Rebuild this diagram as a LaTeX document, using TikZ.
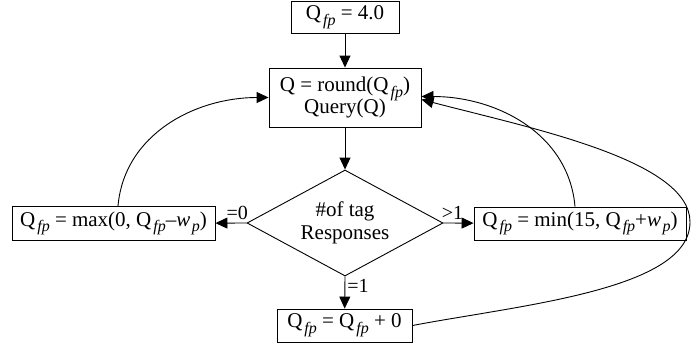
\documentclass[tikz,border=0pt]{standalone}
\usepackage{fontspec}
\setmainfont{Liberation Serif}
\usetikzlibrary{arrows.meta,shapes.geometric}
\newcommand\subq[1]{\raisebox{-0.6ex}{\fontsize{16}{16}\selectfont\itshape #1}}
\newcommand\Qfp{Q\kern2pt\subq{fp}}
\tikzset{
  box/.style={draw,line width=0.9pt,inner sep=0pt,align=center,font=\fontsize{21}{25}\selectfont},
  lbl/.style={font=\fontsize{20}{22}\selectfont,inner sep=1pt},
  arr/.style={line width=0.9pt,-{Triangle[length=12pt,width=11pt]}},
}
\begin{document}
\begin{tikzpicture}[x=1pt,y=-1pt]
\useasboundingbox (0,0) rectangle (691,349);
\node[box,minimum width=108pt,minimum height=32pt] (top) at (345,17) {\Qfp\ = 4.0};
\node[box,minimum width=152pt,minimum height=59pt] (rnd) at (345,97.5) {Q = round(\Qfp)\\[-3pt]Query(Q)};
\node[draw,diamond,aspect=1.85,line width=0.9pt,inner sep=0pt,minimum width=196pt,minimum height=106pt,align=center,font=\fontsize{21}{23}\selectfont] (dia) at (345,223) {\#of tag\\Responses};
\node[box,minimum width=203pt,minimum height=34pt] (lft) at (113.5,223.5) {\Qfp\ = max(0, \Qfp{}–\textit{w}\kern1.5pt\subq{p})};
\node[box,minimum width=212pt,minimum height=33pt] (rgt) at (580,223.5) {\Qfp\ = min(15, \Qfp{}+\textit{w}\kern1.5pt\subq{p})};
\node[box,minimum width=135pt,minimum height=33pt] (bot) at (344.5,325.5) {\Qfp\ = \Qfp\ + 0};
\draw[arr] (top) -- (rnd);
\draw[arr] (rnd) -- (dia);
\draw[arr] (dia.west) -- node[lbl,above,pos=0.3,yshift=2pt] (l0) {=0} (lft);
\draw[arr] (dia.east) -- node[lbl,above,pos=0.3,yshift=2pt] (l1) {>1} (rgt);
\draw[arr] (dia.south) -- node[lbl,right,pos=0.3,xshift=1pt] (l2) {=1} (bot);
\draw[arr] ([xshift=4.5pt]lft.north) to[out=85,in=180] (rnd.west);
\draw[arr] ([xshift=-5pt]rgt.north) to[out=95,in=0] ([yshift=1pt]rnd.east);
\coordinate (far) at (690,222);
\draw[arr] (bot.east) .. controls (520,305) and (690,290) .. (far) .. controls (690,160) and (530,128) .. ([yshift=-2pt]rnd.east);
\end{tikzpicture}
\end{document}
